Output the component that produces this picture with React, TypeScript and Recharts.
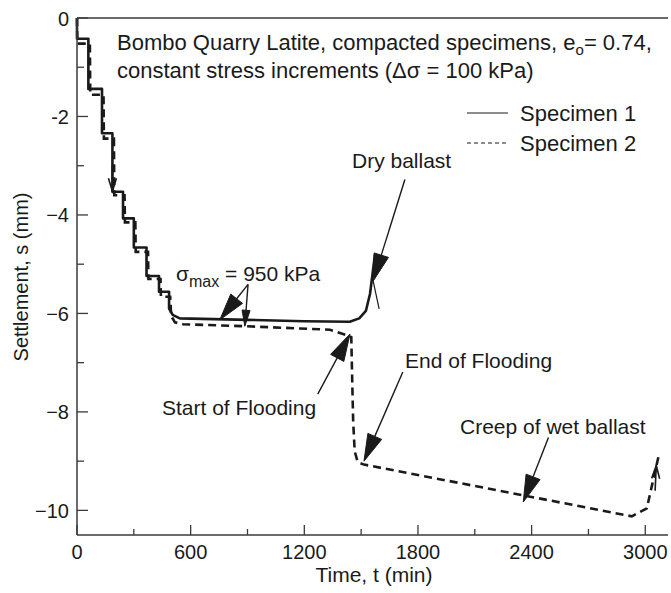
import React from 'react';
import { LineChart, Line, XAxis, YAxis, ReferenceLine, Legend } from 'recharts';

// ---- data (time in min, settlement in mm) ----
const specimen1Time = [0, 0, 60, 60, 132, 132, 187, 187, 243, 243, 300, 300, 367, 367, 433, 433, 486, 486, 505, 543, 900, 1200, 1440, 1490, 1525, 1547, 1560, 1573];
const specimen1Settlement = [0, -0.42, -0.42, -1.44, -1.44, -2.34, -2.34, -3.53, -3.53, -4.07, -4.07, -4.66, -4.66, -5.24, -5.24, -5.56, -5.56, -5.9, -6.03, -6.1, -6.13, -6.16, -6.17, -6.1, -5.95, -5.6, -5.2, -4.8];

const specimen2Time = [0, 2, 68, 70, 140, 142, 195, 197, 251, 253, 308, 310, 375, 377, 441, 443, 492, 497, 517, 560, 886, 1335, 1423, 1448, 1452, 1458, 1466, 1482, 1515, 2929, 3008, 3069];
const specimen2Settlement = [0, -0.52, -0.52, -1.56, -1.56, -2.45, -2.45, -3.6, -3.6, -4.15, -4.15, -4.75, -4.75, -5.3, -5.3, -5.66, -5.66, -6.05, -6.18, -6.22, -6.26, -6.33, -6.44, -6.48, -7.2, -8.2, -8.8, -9.02, -9.07, -10.12, -9.96, -8.92];

const xTicks = [0, 300, 600, 900, 1200, 1500, 1800, 2100, 2400, 2700, 3000];
const xLabelTicks = [0, 600, 1200, 1800, 2400, 3000];
const yTicks = [0, -1, -2, -3, -4, -5, -6, -7, -8, -9, -10];
const yLabelTicks = [0, -2, -4, -6, -8, -10];
const yTickLabels: Record<string, string> = { '0': '0', '-2': '-2', '-4': '\u22124', '-6': '\u22126', '-8': '\u22128', '-10': '\u221210' };

// annotation arrows: from (t, s) to (t, s)
const arrowStart = [[187, -3.0], [903, -5.41], [903, -5.41], [1731, -3.28], [1271, -7.64], [1720, -7.19], [2489, -8.52], [3052, -9.6]];
const arrowEnd = [[187, -3.52], [754, -6.13], [886, -6.26], [1564, -5.34], [1441, -6.42], [1515, -9.0], [2356, -9.83], [3058, -9.09]];
const arrowHeads = ['open', 'big', 'thin', 'big', 'big', 'big', 'big', 'open'];
const thinLineStart = [1561, -5.3];
const thinLineEnd = [1595, -5.91];

const series1 = specimen1Time.map((t, i) => ({ t, s: specimen1Settlement[i] }));
const series2 = specimen2Time.map((t, i) => ({ t, s: specimen2Settlement[i] }));

const FONT = '"Liberation Sans", Arial, Helvetica, sans-serif';
const AXIS = '#3a3a3a';
const INK = '#1a1a1a';

const makeArrow = (kind: string) => (props: any) => {
  const { x1, y1, x2, y2 } = props;
  const dx = x2 - x1;
  const dy = y2 - y1;
  const len = Math.sqrt(dx * dx + dy * dy) || 1;
  const ux = dx / len;
  const uy = dy / len;
  const px = -uy;
  const py = ux;
  const L = kind === 'big' ? 27 : kind === 'thin' ? 16 : 13;
  const W = kind === 'big' ? 7.5 : kind === 'thin' ? 4 : 4;
  const bx = x2 - ux * L;
  const by = y2 - uy * L;
  const pts = `${x2},${y2} ${bx + px * W},${by + py * W} ${bx - px * W},${by - py * W}`;
  if (kind === 'open') {
    return (
      <g>
        <line x1={x1} y1={y1} x2={x2} y2={y2} stroke={INK} strokeWidth={1.6} />
        <polyline points={`${bx + px * W},${by + py * W} ${x2},${y2} ${bx - px * W},${by - py * W}`} fill="none" stroke={INK} strokeWidth={1.6} />
      </g>
    );
  }
  return (
    <g>
      <line x1={x1} y1={y1} x2={bx} y2={by} stroke={INK} strokeWidth={1.4} />
      <polygon points={pts} fill={INK} stroke={INK} strokeWidth={1} strokeLinejoin="miter" />
    </g>
  );
};

const thinShape = (props: any) => {
  const { x1, y1, x2, y2 } = props;
  return <line x1={x1} y1={y1} x2={x2} y2={y2} stroke={INK} strokeWidth={1.2} />;
};

const YTick = (props: any) => {
  const { x, y, payload } = props;
  const v = payload.value;
  const major = yLabelTicks.includes(v);
  return (
    <g>
      <line x1={x} x2={x + (major ? 11 : 7)} y1={y} y2={y} stroke={AXIS} strokeWidth={1.3} />
      {major && (
        <text x={x - 8} y={y} dy={7.5} textAnchor="end" fontSize={20} fontFamily={FONT} fill={INK}>
          {yTickLabels[String(v)]}
        </text>
      )}
    </g>
  );
};

const XTick = (props: any) => {
  const { x, y, payload } = props;
  const v = payload.value;
  const major = xLabelTicks.includes(v);
  return (
    <g>
      <line x1={x} x2={x} y1={y} y2={y - (major ? 10 : 6)} stroke={AXIS} strokeWidth={1.3} />
      {major && (
        <text x={x} y={y} dy={24} textAnchor="middle" fontSize={20} fontFamily={FONT} fill={INK}>
          {v}
        </text>
      )}
    </g>
  );
};

const LegendContent = (props: any) => {
  const payload = props.payload || [];
  return (
    <svg width={200} height={60} style={{ overflow: 'visible' }}>
      {payload.map((entry: any, i: number) => (
        <g key={entry.value}>
          <line x1={7} x2={48} y1={18 + i * 30} y2={18 + i * 30} stroke={INK} strokeWidth={1.1}
            strokeDasharray={i === 1 ? '4 3' : undefined} />
          <text x={60} y={18 + i * 30} dy={7.5} fontSize={22} fontFamily={FONT} fill={INK}>{entry.value}</text>
        </g>
      ))}
    </svg>
  );
};

export default function App() {
  return (
    <div style={{ position: 'relative', width: 671, height: 593, background: '#fff' }}>
      <style>{'body{margin:0;background:#fff}'}</style>
      <LineChart width={671} height={593} margin={{ top: 18, right: 3, bottom: 0, left: 0 }}>
        <XAxis dataKey="t" type="number" domain={[0, 3120]} ticks={xTicks} interval={0}
          allowDuplicatedCategory={false} height={58} tickSize={0} tickMargin={0}
          tickLine={false} axisLine={{ stroke: AXIS, strokeWidth: 1.5 }} tick={<XTick />} />
        <YAxis dataKey="s" type="number" domain={[-10.5, 0]} ticks={yTicks} interval={0}
          width={77} tickSize={0} tickMargin={0} tickLine={false}
          axisLine={{ stroke: AXIS, strokeWidth: 1.5 }} tick={<YTick />} />
        <ReferenceLine y={0} stroke={AXIS} strokeWidth={1.5} />
        <Line data={series1} dataKey="s" name="Specimen 1" type="linear" stroke={INK} strokeWidth={2.6}
          dot={false} isAnimationActive={false} strokeLinejoin="round" />
        <Line data={series2} dataKey="s" name="Specimen 2" type="linear" stroke={INK} strokeWidth={2.6}
          strokeDasharray="8 5" dot={false} isAnimationActive={false} />
        {arrowStart.map((a, i) => (
          <ReferenceLine key={'arr' + i} segment={[{ x: a[0], y: a[1] }, { x: arrowEnd[i][0], y: arrowEnd[i][1] }]}
            ifOverflow="visible" shape={makeArrow(arrowHeads[i])} />
        ))}
        <ReferenceLine segment={[{ x: thinLineStart[0], y: thinLineStart[1] }, { x: thinLineEnd[0], y: thinLineEnd[1] }]}
          ifOverflow="visible" shape={thinShape} />
        <Legend layout="horizontal" verticalAlign="middle" align="center"
          wrapperStyle={{ top: 95, left: 460, width: 200, height: 60 }} content={<LegendContent />} />
      </LineChart>
      <svg width={671} height={593} style={{ position: 'absolute', left: 0, top: 0, pointerEvents: 'none' }}
        fontFamily={FONT} fill={INK}>
        <text x={117} y={50} fontSize={22}>
          Bombo Quarry Latite, compacted specimens, e<tspan fontSize={15} dy={5}>o</tspan><tspan dy={-5}>= 0.74,</tspan>
        </text>
        <text x={117} y={78} fontSize={22}>constant stress increments (Δσ = 100 kPa)</text>
        <text x={176} y={281} fontSize={21}>
          σ<tspan fontSize={16} dy={6}>max</tspan><tspan dy={-6}> = 950 kPa</tspan>
        </text>
        <text x={352} y={168} fontSize={21}>Dry ballast</text>
        <text x={162} y={415} fontSize={21}>Start of Flooding</text>
        <text x={405} y={368} fontSize={21}>End of Flooding</text>
        <text x={460} y={434} fontSize={21}>Creep of wet ballast</text>
        <text x={374} y={582} fontSize={21} textAnchor="middle">Time, t (min)</text>
        <text transform="translate(28,277) rotate(-90)" fontSize={20} textAnchor="middle">Settlement, s (mm)</text>
      </svg>
    </div>
  );
}
